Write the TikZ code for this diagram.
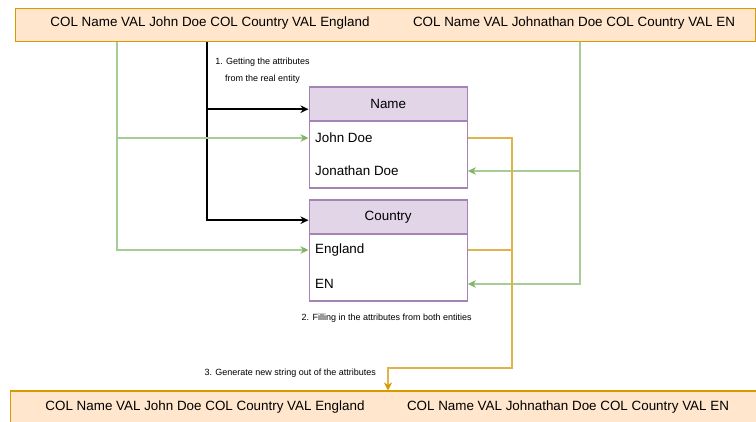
\documentclass[tikz,border=0pt]{standalone}
\usepackage{fontspec}
\setmainfont{Liberation Sans}
\usetikzlibrary{arrows.meta}
\definecolor{strfill}{HTML}{FFE6CC}
\definecolor{strline}{HTML}{D79B00}
\definecolor{entfill}{HTML}{E1D5E7}
\definecolor{entline}{HTML}{A583B6}
\definecolor{grnline}{HTML}{A8CC95}
\definecolor{grntip}{HTML}{82B366}
\definecolor{orgline}{HTML}{E2B24C}
\definecolor{orgtip}{HTML}{D79B00}
\begin{document}
\begin{tikzpicture}[x=1pt,y=-1pt,
  font=\fontsize{13.4}{16}\selectfont,
  strbox/.style={draw=strline, fill=strfill, line width=1.4pt, anchor=north west, inner sep=0pt},
  headbox/.style={draw=entline, fill=entfill, line width=1.4pt, anchor=north west,
    minimum width=158pt, minimum height=34pt, inner sep=0pt},
  bodybox/.style={draw=entline, fill=white, line width=1.4pt, anchor=north west,
    minimum width=158pt, minimum height=67pt, inner sep=0pt},
  cell/.style={anchor=west, inner sep=0pt},
  note/.style={font=\fontsize{9}{17}\selectfont, inner sep=0pt, align=center},
  blkarrow/.style={draw=black, line width=1.6pt, -{Stealth[length=8pt,width=7.5pt,inset=2.5pt]}},
  grnarrow/.style={draw=grnline, line width=1.6pt, -{Stealth[length=8pt,width=7.5pt,inset=2.5pt,color=grntip]}},
  orgarrow/.style={draw=orgline, line width=1.6pt, -{Stealth[length=8pt,width=8pt,inset=2.5pt,color=orgtip]}},
  orgline/.style={draw=orgline, line width=1.6pt}]
\useasboundingbox (0,0) rectangle (756,422);

% source strings
\node[strbox, minimum width=740pt, minimum height=33pt] (src) at (14.5,8) {};
\node (src1) at (210,22.7) {COL Name VAL John Doe COL Country VAL England};
\node (src2) at (574,22.7) {COL Name VAL Johnathan Doe COL Country VAL EN};

% result strings
\node[strbox, minimum width=760pt, minimum height=40pt] (res) at (9.5,390.5) {};
\node (res1) at (205,406.7) {COL Name VAL John Doe COL Country VAL England};
\node (res2) at (568,406.7) {COL Name VAL Johnathan Doe COL Country VAL EN};

% Name entity
\node[headbox] (nameHead) at (308.5,86.5) {Name};
\node[bodybox] (nameBody) at (308.5,120.5) {};
\node[cell] (jd) at (315,138) {John Doe};
\node[cell] (jnd) at (315,171) {Jonathan Doe};

% Country entity
\node[headbox] (ctyHead) at (308.5,199.5) {Country};
\node[bodybox] (ctyBody) at (308.5,233.5) {};
\node[cell] (eng) at (315,250) {England};
\node[cell] (en) at (315,284) {EN};

% step labels
\node[note] (lab1) at (262.5,70.8) {1. Getting the attributes\\from the real entity};
\node[note] (lab2) at (386.7,317.7) {2. Filling in the attributes from both entities};
\node[note] (lab3) at (290.3,373.5) {3. Generate new string out of the attributes};

% routing columns
\coordinate (kx) at (207,0);
\coordinate (gl) at (117,0);
\coordinate (gr) at (580,0);
\coordinate (ob) at (512,368);
\coordinate (oa) at (388,368);

% 1. attributes of the real entity
\draw[blkarrow] (src.south -| kx) |- ([yshift=-3pt]ctyHead.west);
\draw[blkarrow] (src.south -| kx) |- ([yshift=-5pt]nameHead.west);

% 2. values of both entities
\draw[grnarrow] (src.south -| gl) |- (nameBody.west |- jd);
\draw[grnarrow] (src.south -| gl) |- (ctyBody.west |- eng);
\draw[grnarrow] (src.south -| gr) |- (nameBody.east |- jnd);
\draw[grnarrow] (src.south -| gr) |- (ctyBody.east |- en);

% 3. new string
\draw[orgline] (ctyBody.east |- eng) -- (ob |- eng);
\draw[orgarrow] (nameBody.east |- jd) -| (ob) -| (res.north -| oa);
\end{tikzpicture}
\end{document}
